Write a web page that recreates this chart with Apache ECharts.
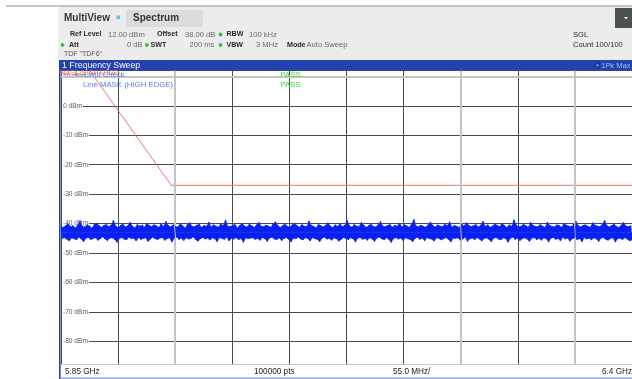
<!DOCTYPE html>
<html><head><meta charset="utf-8">
<script src="https://cdn.jsdelivr.net/npm/echarts@6/dist/echarts.min.js"></script>
<style>html,body{margin:0;padding:0;background:#fff}#c{width:632px;height:379px}</style>
</head><body><div id="c"></div>
<script>
// ---- data ----
const startMHz = 5850, stopMHz = 6400, divMHz = 55;
const yMin = -90, yMax = 12, yStep = 10;
const yTickLabels = ['-80 dBm','-70 dBm','-60 dBm','-50 dBm','-40 dBm','-30 dBm','-20 dBm','-10 dBm','0 dBm','10 dBm'];
const yTickValues = [-80,-70,-60,-50,-40,-30,-20,-10,0,10];
const maskFreqMHz = [5877.7, 5956.2, 6400];
const maskLevel = [12, -27, -27];
const displayLineFreqMHz = [5960, 6235, 6345];
const displayLineLevel = [10];
const noiseCenter = -43;
const noiseTop = [
-40.9,-41.3,-40.6,-40.1,-41.0,-40.7,-41.4,-40.5,-39.2,-40.9,-41.1,-40.4,-40.8,-41.5,-40.2,-39.9,-40.7,-41.2,-40.6,-40.3,
-41.0,-40.5,-38.9,-40.8,-41.3,-40.6,-40.2,-41.1,-40.7,-39.6,-40.9,-41.4,-40.3,-40.8,-40.5,-41.2,-39.8,-40.6,-41.0,-40.4,
-40.7,-41.3,-40.1,-40.9,-39.3,-40.6,-41.1,-40.4,-40.8,-41.2,-40.0,-40.7,-41.5,-40.3,-39.7,-40.9,-41.0,-40.5,-40.2,-41.3,
-40.6,-40.9,-39.5,-41.1,-40.4,-40.8,-41.2,-40.1,-40.7,-38.8,-40.9,-41.0,-40.5,-40.3,-41.4,-40.6,-39.9,-40.8,-41.1,-40.2,
-40.7,-41.3,-40.4,-39.6,-40.9,-41.0,-40.5,-40.8,-41.2,-40.1,-39.4,-40.7,-41.3,-40.6,-40.2,-40.9,-41.1,-40.4,-39.8,-40.7,
-41.2,-40.3,-40.8,-41.0,-39.1,-40.6,-40.9,-41.4,-40.2,-40.7,-41.1,-40.5,-39.7,-40.8,-41.3,-40.4,-40.9,-40.1,-41.0,-40.6,
-38.9,-40.7,-41.2,-40.3,-40.8,-41.0,-39.6,-40.5,-41.3,-40.7,-40.2,-40.9,-41.1,-40.4,-39.3,-40.8,-41.0,-40.6,-40.3,-41.2,
-40.5,-40.9,-39.8,-41.1,-40.4,-40.7,-41.3,-40.2,-38.6,-40.8,-41.0,-40.5,-40.9,-41.2,-40.3,-39.5,-40.7,-41.1,-40.4,-40.8,
-41.0,-40.2,-40.7,-39.4,-41.2,-40.6,-40.9,-41.3,-40.1,-40.8,-39.7,-40.5,-41.0,-40.7,-40.3,-41.1,-40.6,-39.2,-40.9,-40.4,
-41.2,-40.8,-40.1,-40.6,-41.0,-39.8,-40.7,-41.3,-40.4,-40.9,-38.7,-40.5,-41.1,-40.8,-40.2,-40.7,-41.2,-39.6,-40.6,-40.9,
-41.0,-40.3,-40.8,-41.3,-39.5,-40.6,-40.9,-41.1,-40.4,-40.7,-41.2,-39.9,-40.5,-40.8,-41.0,-40.2,-39.3,-40.7,-41.1,-40.6,
-40.4,-40.9,-41.2,-39.7,-40.5,-40.8,-41.0,-40.3,-38.9,-40.7,-41.1,-40.6,-40.2,-40.9,-41.3,-40.5,-39.6,-40.8,-41.0,-40.7];
const noiseBottom = [
-45.1,-44.8,-45.4,-45.9,-44.9,-45.2,-45.6,-44.7,-45.3,-46.2,-45.0,-44.8,-45.5,-45.1,-44.9,-45.7,-45.2,-44.6,-45.3,-45.8,
-45.0,-44.9,-45.4,-46.4,-45.1,-44.8,-45.3,-45.6,-44.7,-45.2,-45.0,-45.9,-44.8,-45.4,-45.1,-44.9,-46.1,-45.3,-44.7,-45.2,
-45.5,-45.0,-44.8,-45.7,-45.2,-44.9,-46.3,-45.1,-44.7,-45.4,-45.0,-45.8,-44.9,-45.3,-45.1,-44.6,-45.5,-46.0,-45.2,-44.8,
-45.3,-45.0,-45.6,-44.9,-45.2,-46.2,-44.8,-45.1,-45.4,-44.7,-45.9,-45.0,-45.3,-44.8,-45.5,-45.1,-46.4,-44.9,-45.2,-45.0,
-44.9,-45.4,-45.1,-45.7,-44.8,-45.2,-46.1,-45.0,-44.7,-45.3,-45.5,-44.9,-45.8,-45.1,-44.8,-45.4,-46.3,-45.0,-45.2,-44.7,
-45.3,-45.6,-44.9,-45.1,-45.9,-44.8,-45.2,-45.4,-46.2,-45.0,-44.7,-45.3,-45.1,-45.7,-44.9,-45.2,-46.0,-45.4,-44.8,-45.1,
-45.5,-44.9,-45.2,-46.3,-45.0,-44.8,-45.4,-45.1,-45.7,-44.9,-45.3,-46.1,-45.0,-44.7,-45.2,-45.6,-44.9,-45.4,-46.4,-45.1,
-44.8,-45.3,-45.0,-45.8,-44.9,-45.2,-45.5,-46.2,-45.1,-44.7,-45.4,-45.0,-45.9,-44.8,-45.2,-45.3,-46.0,-44.9,-45.1,-45.6,
-45.2,-44.8,-45.4,-46.3,-45.0,-45.1,-44.9,-45.7,-45.3,-44.7,-46.1,-45.2,-45.0,-45.5,-44.8,-45.3,-45.9,-45.1,-44.9,-45.4,
-46.2,-45.0,-44.8,-45.3,-45.6,-44.9,-45.2,-46.4,-45.1,-44.7,-45.4,-45.0,-45.8,-45.2,-44.9,-45.3,-46.1,-45.0,-44.8,-45.5,
-45.1,-45.7,-44.9,-45.2,-46.3,-45.0,-44.8,-45.4,-45.1,-45.9,-44.7,-45.3,-45.0,-46.0,-45.2,-44.9,-45.5,-45.1,-46.2,-44.8,
-45.3,-45.0,-45.6,-44.9,-45.2,-46.1,-45.0,-44.8,-45.4,-45.7,-45.1,-44.9,-46.3,-45.2,-45.0,-45.5,-44.8,-45.3,-45.9,-45.6];

// ---- build ----
const span = stopMHz - startMHz;
const nPts = noiseTop.length * 2;
const px = j => j * span / (nPts - 1);
const trace = [], topEnv = [], botEnv = [];
for (let i = 0; i < noiseTop.length; i++) {
  trace.push([px(2*i), noiseTop[i]]);
  trace.push([px(2*i+1), noiseBottom[i]]);
  topEnv.push([px(2*i), noiseTop[i]]);
  botEnv.push([px(2*i+1), noiseBottom[i]]);
}
const mask = maskFreqMHz.map((f, i) => [f - startMHz, maskLevel[i]]);
const labelMap = {};
yTickValues.forEach((v, i) => labelMap[v] = yTickLabels[i]);

const F = '"Liberation Sans", Arial, sans-serif';
function T(text, x, y, size, color, weight, align) {
  return { type: 'text', x: x, y: y, z: 100,
    style: { text: text, fill: color, font: (weight || 'normal') + ' ' + size + 'px ' + F,
             verticalAlign: 'middle', align: align || 'left' } };
}
function R(x, y, w, h, fill, z) {
  return { type: 'rect', shape: { x: x, y: y, width: w, height: h }, z: z || 90, style: { fill: fill } };
}
function dot(x, y) {
  return { type: 'circle', shape: { cx: x, cy: y, r: 1.9 }, z: 100, style: { fill: '#3fb950' } };
}
const K = '#2a2a2a', V = '#6a6a6a', KS = 7.1, VS = 7.6;
const graphics = [
  R(0, 0, 632, 60, '#ffffff', 80),
  R(6, 5, 626, 2, '#c6c6c6', 85),
  R(58, 7, 574, 53, '#ececec', 85),
  R(126, 10, 77, 17, '#dcdcdc', 90),
  T('MultiView', 64, 18, 10, '#333', 'bold'),
  R(116.5, 15.5, 3.5, 3.5, '#5ec4ee', 95),
  T('Spectrum', 133, 18, 10, '#333', 'bold'),
  R(615, 8, 17, 20, '#4b5050', 95),
  { type: 'polygon', z: 100, shape: { points: [[624, 17], [628, 17], [626, 19.5]] }, style: { fill: '#fff' } },
  T('Ref Level', 70, 34.5, KS, K, 'bold'),
  T('12.00 dBm', 108, 34.5, VS, V),
  T('Offset', 157, 34.5, KS, K, 'bold'),
  T('38.00 dB', 185, 34.5, VS, V),
  dot(220.5, 34.5),
  T('RBW', 226.5, 34.5, KS, K, 'bold'),
  T('100 kHz', 249, 34.5, VS, V),
  dot(62.5, 45),
  T('Att', 69, 45, KS, K, 'bold'),
  T('0 dB', 142.5, 45, VS, V, 'normal', 'right'),
  dot(146.8, 45),
  T('SWT', 150.5, 45, KS, K, 'bold'),
  T('200 ms', 189.5, 45, VS, V),
  dot(220.5, 45),
  T('VBW', 226.5, 45, KS, K, 'bold'),
  T('3 MHz', 256, 45, VS, V),
  T('Mode', 287, 45, KS, K, 'bold'),
  T('Auto Sweep', 306.5, 45, VS, V),
  T('TDF "TDF6"', 64, 54.5, 7, '#555'),
  T('SGL', 573, 34.5, VS, K),
  T('Count 100/100', 573, 45, VS, K),
  R(59, 60, 573, 10.5, '#2242b2', 95),
  T('1 Frequency Sweep', 62, 65.3, 8.8, '#ffffff'),
  { type: 'circle', z: 100, shape: { cx: 597.5, cy: 65.3, r: 1.9 }, style: { fill: '#6a94e8', stroke: '#0b1a66', lineWidth: 1 } },
  T('1Pk Max', 601, 65.5, 7.6, '#a9bbea'),
  R(59, 60, 1.6, 319, '#2242b2', 95),
  R(60.6, 364.6, 572, 14.4, '#ffffff', 90),
  R(60.6, 364.2, 572, 0.8, '#b8b8b8', 95),
  R(60.6, 377.6, 572, 1.2, '#7d95d8', 95),
  T('5.85 GHz', 65, 372, 8.2, '#222'),
  T('100000 pts', 254, 372, 8.2, '#222'),
  T('55.0 MHz/', 393, 372, 8.2, '#222'),
  T('6.4 GHz', 632, 372, 8.2, '#222', 'normal', 'right'),
  T('MASK (HIGH EDGE)', 60.5, 73.6, 6.3, '#f06a6a'),
  T('Limit Check', 84, 74.5, 7.8, '#4d86e0'),
  T('Line MASK (HIGH EDGE)', 83, 84.8, 7.8, '#4d86e0'),
  T('PASS', 280.5, 75, 7.8, '#33dd33'),
  T('PASS', 280.5, 84.8, 7.8, '#33dd33')
];

const BLUE = '#0a22f0';
const chart = echarts.init(document.getElementById('c'), null, { renderer: 'canvas' });
chart.setOption({
  animation: false,
  backgroundColor: '#ffffff',
  grid: { left: 61, top: 70.6, width: 575, height: 300, show: false },
  xAxis: { type: 'value', min: 0, max: span, interval: divMHz,
    axisLine: { show: false }, axisTick: { show: false }, axisLabel: { show: false },
    splitLine: { show: true, lineStyle: { color: '#4a4a4a', width: 1 } } },
  yAxis: [
    { type: 'value', min: yMin, max: yMax, interval: yStep, z: 0,
      axisLine: { show: false }, axisTick: { show: false }, axisLabel: { show: false },
      splitLine: { show: true, lineStyle: { color: '#4a4a4a', width: 1 } } },
    { type: 'value', min: yMin, max: yMax, interval: yStep, z: 1, position: 'left', offset: 0,
      axisLine: { show: false }, axisTick: { show: false }, splitLine: { show: false },
      axisLabel: { show: true, inside: true, margin: 1, color: '#5a5a5a',
        fontFamily: 'Liberation Sans', fontSize: 6.6, backgroundColor: '#ffffff', padding: [0, 1, 0, 1],
        formatter: v => labelMap[v] || '' } }
  ],
  graphic: graphics,
  series: [
    { type: 'line', name: 'display lines', data: [], z: 1, silent: true,
      markLine: { silent: true, symbol: 'none', label: { show: false },
        lineStyle: { color: '#c4c4c4', width: 2, type: 'solid' },
        data: displayLineFreqMHz.map(f => ({ xAxis: f - startMHz }))
          .concat(displayLineLevel.map(l => ({ yAxis: l }))) } },
    { type: 'line', name: 'MASK', data: mask, showSymbol: false, z: 3,
      lineStyle: { color: '#f07272', width: 1 } },
    { type: 'line', name: 'env top', data: topEnv, showSymbol: false, z: 4, silent: true,
      lineStyle: { color: '#3a55f4', width: 0.6 },
      areaStyle: { origin: noiseCenter, color: BLUE, opacity: 1 } },
    { type: 'line', name: 'env bottom', data: botEnv, showSymbol: false, z: 4, silent: true,
      lineStyle: { color: '#3a55f4', width: 0.6 },
      areaStyle: { origin: noiseCenter, color: BLUE, opacity: 1 } },
    { type: 'line', name: '1Pk Max', data: trace, showSymbol: false, z: 5, sampling: null,
      lineStyle: { color: BLUE, width: 0.8 } }
  ]
});
</script></body></html>
